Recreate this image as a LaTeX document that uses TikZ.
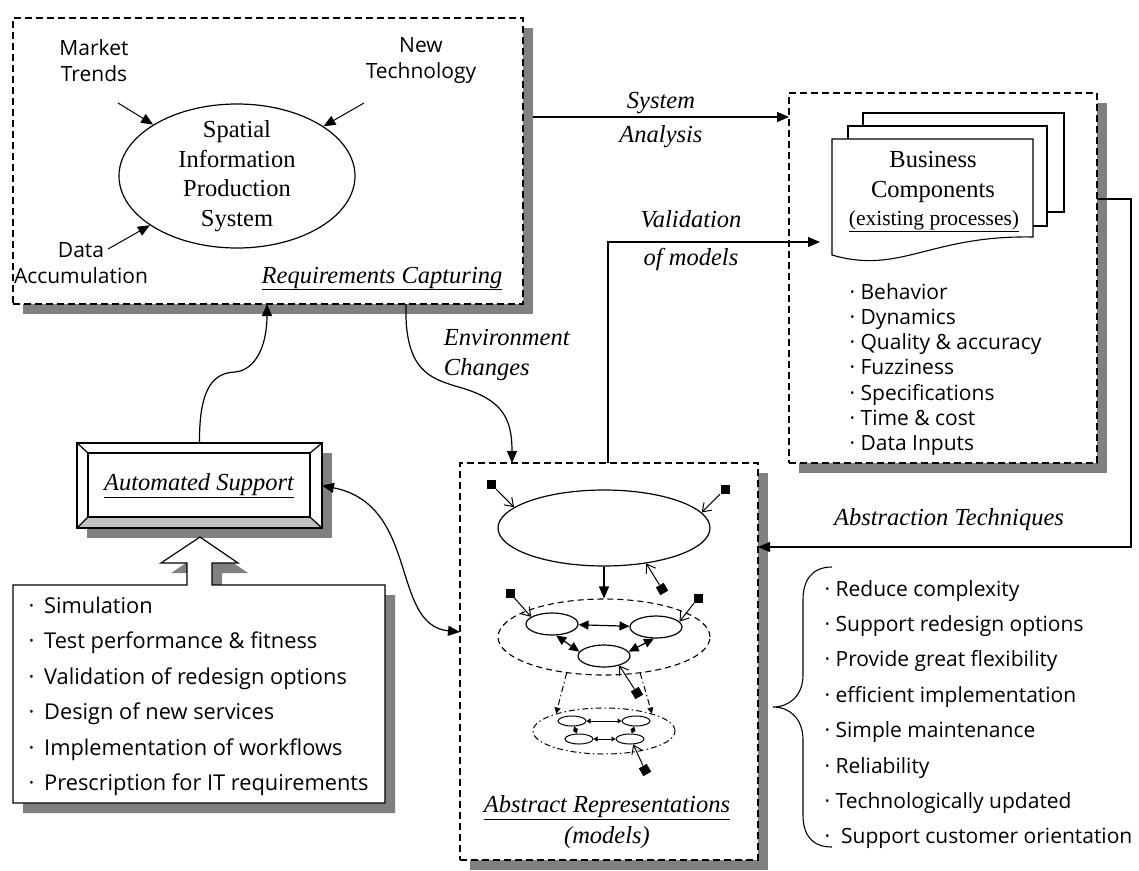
\documentclass[tikz,border=0pt]{standalone}
\usepackage{fontspec}
\setmainfont{Liberation Serif}
\newfontfamily\comic{Open Sans}
\usetikzlibrary{shapes.geometric,arrows.meta,shadows,calc}
\definecolor{shadowgray}{HTML}{808080}
\definecolor{bevelgray}{HTML}{C0C0C0}
\begin{document}
\begin{tikzpicture}[x=1pt,y=-1pt,line width=1.2pt,
  >={Triangle[length=12pt,width=10pt]},
  dbox/.style={draw,dash pattern=on 7pt off 4pt,fill=white,inner sep=0pt,outer sep=0pt,
    drop shadow={shadow xshift=10pt,shadow yshift=-10pt,fill=shadowgray,opacity=1}},
  rm/.style={font=\fontsize{24.5}{29.5}\selectfont},
  itx/.style={font=\fontsize{24.5}{29.5}\selectfont\itshape},
  itwide/.style={font=\fontsize{24.5}{34}\selectfont\itshape},
  itwider/.style={font=\fontsize{24.5}{38}\selectfont\itshape},
  hand/.style={font=\fontsize{21}{26}\comic},
  handl/.style={font=\fontsize{21.8}{26}\comic},
  sqr/.style={rectangle,fill=black,minimum size=9pt,inner sep=0pt},
  inarr/.style={line width=1pt,-{Straight Barb[length=8pt,width=11pt]}},
  sel/.style={draw,ellipse,minimum width=52pt,minimum height=22pt,inner sep=0pt},
  tel/.style={draw,ellipse,minimum width=28pt,minimum height=10pt,inner sep=0pt,line width=1pt},
  link/.style={{Triangle[length=10pt,width=9pt]}-{Triangle[length=10pt,width=9pt]}},
  tlink/.style={line width=1pt,{Triangle[length=4pt,width=5pt]}-{Triangle[length=4pt,width=5pt]}},
  dashdotline/.style={dash pattern=on 6pt off 3pt on 1.5pt off 3pt,line width=1pt}
]
\useasboundingbox (0,0) rectangle (1139,870);

% ---------- Requirements capturing ----------
\node[dbox,minimum width=510pt,minimum height=286pt] (rc) at (268,161) {};
\node[hand,align=center] (mt) at (94,61) {Market\\Trends};
\node[hand,align=center] (nt) at (421,61) {New\\Technology};
\node[hand,align=center] (da) at (81,263) {Data\\Accumulation};
\node[draw,ellipse,minimum width=236pt,minimum height=144pt,inner sep=0pt] (sips) at (237,176) {};
\node[rm,align=center] (sipst) at (sips.center) {Spatial\\Information\\Production\\System};
\coordinate (mtA) at (118,103);
\coordinate (ntA) at (364,103);
\coordinate (daA) at (108,249);
\draw[line width=1pt,->] (mtA) -- (sips);
\draw[line width=1pt,->] (ntA) -- (sips);
\draw[line width=1pt,->] (daA) -- (sips);
\node[itx,anchor=base] (rcl) at (382,283) {\underline{Requirements Capturing}};

% ---------- Business components ----------
\node[dbox,minimum width=308pt,minimum height=370pt] (bc) at (943,278) {};
\draw[fill=white,line width=1.1pt] (863,113) rectangle (1064,212);
\draw[fill=white,line width=1.1pt] (848,126) rectangle (1047,226);
\draw[fill=white,line width=1.1pt] (832,139) coordinate (doc) -- (1033,139) -- (1033,237)
   .. controls (930,235) and (900,275) .. (832,255) -- cycle;
\node[rm,align=center] (bct) at (933,177) {Business\\Components};
\node[font=\fontsize{21.5}{26}\selectfont] (bcs) at (934,221) {\underline{(existing processes)}};
\foreach \t [count=\i from 0] in {Behavior,Dynamics,Quality \& accuracy,Fuzziness,Specifications,Time \& cost,Data Inputs}
  \node[hand,anchor=base west,inner sep=0pt] (bci\i) at ({849},{299+25.3*\i}) {· \t};

% ---------- Abstract representations ----------
\node[dbox,minimum width=298pt,minimum height=397pt] (ar) at (609,661.5) {};
\node[draw,ellipse,minimum width=212pt,minimum height=76pt,inner sep=0pt] (e0) at (604,528) {};
\node[sqr] (s1) at (491,484) {};
\node[sqr] (s2) at (725,489) {};
\node[sqr,rotate=30] (s3) at (662,589) {};
\draw[inarr] (s1) -- (e0.167);
\draw[inarr] (s2) -- (e0.9);
\draw[inarr] (s3) -- (e0.-40);
\node[draw,ellipse,dash pattern=on 6pt off 4pt,line width=1.1pt,minimum width=212pt,minimum height=76pt,inner sep=0pt] (d) at (604,637) {};
\draw[->] (e0.south) -- (d.north);
\node[sel] (L) at (552,624) {};
\node[sel] (R) at (656,627) {};
\node[sel] (B) at (604,656) {};
\draw[link] (L) -- (R);
\draw[link] (L.-70) -- (B.170);
\draw[link] (R.-100) -- (B.10);
\node[sqr] (sL) at (510,593) {};
\node[sqr] (sR) at (698,598) {};
\node[sqr,rotate=30] (sB) at (637,693) {};
\draw[inarr] (sL) -- (L.161);
\draw[inarr] (sR) -- (R.13);
\draw[inarr] (sB) -- (B.-32);
\node[draw,ellipse,dashdotline,minimum width=142pt,minimum height=46pt,inner sep=0pt] (dd) at (604,731) {};
\draw[dashdotline,-{Triangle[length=6pt,width=6pt]}] (d.-136) -- (dd.160);
\draw[dashdotline,-{Triangle[length=6pt,width=6pt]}] (d.-45) -- (dd.20);
\node[tel] (TL) at (572,721) {};
\node[tel] (TR) at (636,721) {};
\node[tel] (BL) at (579,739) {};
\node[tel] (BR) at (630,739) {};
\draw[tlink] (TL) -- (TR);
\draw[tlink] (BL) -- (BR);
\draw[tlink] (TL) -- (BL);
\draw[tlink] (TR) -- (BR);
\node[sqr,rotate=30] (sD) at (645,770) {};
\draw[inarr] (sD) -- (BR.-59);
\node[itx] (arl) at (607,808) {\underline{Abstract Representations}};
\node[itx] (arm) at (607,838) {(models)};

% ---------- Automated support ----------
\fill[shadowgray] (87,453) rectangle (332,538);
\node[minimum width=245pt,minimum height=85pt,inner sep=0pt,outer sep=0pt,fill=white] (as) at (199.5,485.5) {};
\fill[bevelgray] (77,528) -- (322,528) -- (310,517) -- (88,517) -- cycle;
\draw (as.north west) rectangle (as.south east);
\draw (88,453) rectangle (310,517);
\draw (77,443) -- (88,453) (322,443) -- (310,453) (322,528) -- (310,517) (77,528) -- (88,517);
\node[itx] (ast) at (199,486) {\underline{Automated Support}};

% ---------- list box with hollow arrow ----------
\fill[shadowgray,shift={(10,10)}] (13,585) -- (187,585) -- (187,563) -- (161,563) -- (200,537)
  -- (238,563) -- (212,563) -- (212,585) -- (385,585) -- (385,803) -- (13,803) -- cycle;
\draw[fill=white] (13,585) -- (187,585) -- (187,563) -- (161,563) -- (200,537)
  -- (238,563) -- (212,563) -- (212,585) -- (385,585) -- (385,803) -- (13,803) -- cycle;
\foreach \t [count=\i from 0] in {Simulation,Test performance \& fitness,Validation of redesign options,Design of new services,Implementation of workflows,Prescription for IT requirements}
  \node[handl,anchor=base west,inner sep=0pt] (li\i) at ({28},{613+35.5*\i}) {·\hspace{0.45em}\t};

% ---------- right brace and list ----------
\draw[line width=1.1pt] (832,567) .. controls (812,567) and (803,580) .. (803,600) -- (803,675)
  .. controls (803,695) and (790,707) .. (773,707) .. controls (790,707) and (803,719) .. (803,740)
  -- (803,815) .. controls (803,835) and (812,847) .. (832,847);
\foreach \t [count=\i from 0] in {Reduce complexity,Support redesign options,Provide great flexibility,efficient implementation,Simple maintenance,Reliability,Technologically updated,\ Support customer orientation}
  \node[hand,anchor=base west,inner sep=0pt] (ri\i) at ({824},{596+35.4*\i}) {· \t};

% ---------- connectors ----------
\coordinate (saS) at (533,117);
\draw[->] (saS) -- (saS -| bc.west);
\node[itwide,align=center] (sal) at (661,120) {System\\Analysis};

\coordinate (vS) at ($(ar.north west)+(148,0)$);
\coordinate (vE) at (820,242);
\draw[->] (vS) |- (vE);
\node[itwider,align=center] (vl) at (691,241) {Validation\\of models};

\coordinate (ecS) at ($(rc.south west)+(393,0)$);
\coordinate (ecE) at ($(ar.north west)+(52,0)$);
\draw[->] (ecS) .. controls (404,370) and (430,378) .. (455,386) .. controls (500,398) and (512,415) .. (ecE);
\node[itx,align=left,anchor=west] (ecl) at (440,355) {Environment\\Changes};

\coordinate (asE) at ($(rc.south west)+(254,0)$);
\draw[->] (as.north) .. controls (199,385) and (215,373) .. (235,372) .. controls (256,370) and (267,345) .. (asE);

\coordinate (arW) at ($(ar.west)+(0,-29.5)$);
\draw[<->] (as.east) .. controls (420,505) and (390,625) .. (arW);

\coordinate (abS) at ($(bc.north east)+(0,106)$);
\coordinate (abE) at ($(ar.north east)+(0,84)$);
\draw[->] (abS) -- ++(34,0) |- (abE);
\node[itx] (abl) at (949,520) {Abstraction Techniques};
\end{tikzpicture}
\end{document}
